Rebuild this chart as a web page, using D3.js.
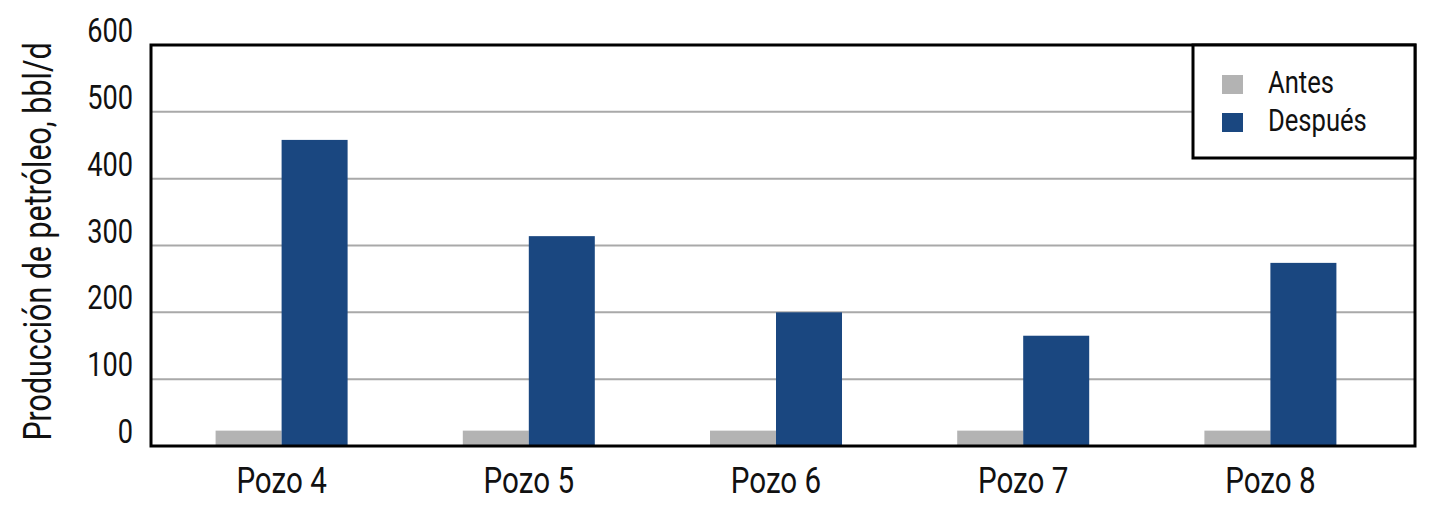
<!DOCTYPE html>
<html>
<head>
<meta charset="utf-8">
<script src="https://cdn.jsdelivr.net/npm/d3@7"></script>
<style>
  body { margin: 0; background: #fff; }
  text { font-family: Roboto, "Liberation Sans", sans-serif; fill: #111; }
</style>
</head>
<body>
<div id="chart"></div>
<script>
// data
var wells = ['Pozo 4', 'Pozo 5', 'Pozo 6', 'Pozo 7', 'Pozo 8'];
var series = ['Antes', 'Después'];
var antes = [23, 23, 23, 23, 23];
var despues = [458, 314, 200, 165, 274];
var yTicks = [0, 100, 200, 300, 400, 500, 600];

var colors = { 'Antes': '#b3b3b3', 'Después': '#1a4780' };

var width = 1442, height = 511;
var margin = { top: 45, right: 27, bottom: 65, left: 151 };
var x0 = margin.left, x1 = width - margin.right;
var y0 = height - margin.bottom, y1 = margin.top;
var squeeze = 0.8; // condensed look

var svg = d3.select('#chart').append('svg')
    .attr('width', width)
    .attr('height', height);

// squeeze a text horizontally around its own anchor point
function condense(sel) {
  sel.each(function() {
    var t = d3.select(this);
    var ax = +t.attr('x') || 0, ay = +t.attr('y') || 0;
    var pre = t.attr('transform') || '';
    t.attr('transform', pre + ' translate(' + ax + ',' + ay + ') scale(' + squeeze + ',1) translate(' + (-ax) + ',' + (-ay) + ')');
  });
}

var y = d3.scaleLinear().domain([0, 600]).range([y0, y1]);

var x = d3.scaleBand()
    .domain(wells)
    .range([x0 + 7, x1 - 21])
    .paddingInner(0.466)
    .paddingOuter(0.233);

var xs = d3.scaleBand().domain(series).range([0, x.bandwidth()]);

// gridlines
svg.append('g')
    .selectAll('line')
    .data(yTicks.filter(d => d > 0 && d < 600))
    .enter().append('line')
    .attr('x1', x0).attr('x2', x1)
    .attr('y1', d => y(d)).attr('y2', d => y(d))
    .style('stroke', '#a9a9a9')
    .style('stroke-width', 2);

// bars
var rows = wells.map((w, i) => ({ well: w, values: [antes[i], despues[i]] }));
var groups = svg.append('g').selectAll('g')
    .data(rows)
    .enter().append('g')
    .attr('transform', d => 'translate(' + x(d.well) + ',0)');

groups.selectAll('rect')
    .data(d => series.map((s, j) => ({ s: s, v: d.values[j] })))
    .enter().append('rect')
    .attr('x', d => xs(d.s))
    .attr('width', xs.bandwidth())
    .attr('y', d => y(d.v))
    .attr('height', d => y0 - y(d.v))
    .style('fill', d => colors[d.s]);

// frame
svg.append('rect')
    .attr('x', x0).attr('y', y1)
    .attr('width', x1 - x0).attr('height', y0 - y1)
    .style('fill', 'none')
    .style('stroke', '#000')
    .style('stroke-width', 3);

// y axis labels
var yAxis = d3.axisLeft(y).tickValues(yTicks).tickSize(0).tickPadding(18);
var ya = svg.append('g')
    .attr('transform', 'translate(' + x0 + ',0)')
    .call(yAxis);
ya.select('.domain').remove();
ya.selectAll('text')
    .attr('dy', '-0.1em')
    .style('font-size', '34px')
    .style('font-family', 'Roboto, "Liberation Sans", sans-serif')
    .style('fill', '#111')
    .call(condense);

// x axis labels
var xAxis = d3.axisBottom(x).tickSize(0).tickPadding(21);
var xa = svg.append('g')
    .attr('transform', 'translate(0,' + y0 + ')')
    .call(xAxis);
xa.select('.domain').remove();
xa.selectAll('text')
    .style('font-size', '37px')
    .style('font-family', 'Roboto, "Liberation Sans", sans-serif')
    .style('fill', '#111')
    .call(condense);

// y title
svg.append('text')
    .attr('transform', 'translate(51,' + ((y0 + y1) / 2 - 4) + ') rotate(-90)')
    .attr('text-anchor', 'middle')
    .style('font-size', '38px')
    .text('Producción de petróleo, bbl/d')
    .call(condense);

// legend
var lg = svg.append('g').attr('transform', 'translate(' + (x1 - 222) + ',' + y1 + ')');
lg.append('rect')
    .attr('width', 222).attr('height', 113)
    .style('fill', '#fff')
    .style('stroke', '#000')
    .style('stroke-width', 3);
var items = lg.selectAll('g.item')
    .data(series)
    .enter().append('g')
    .attr('transform', (d, i) => 'translate(29,' + (30 + i * 38) + ')');
items.append('rect')
    .attr('width', 21).attr('height', 19)
    .style('fill', d => colors[d]);
items.append('text')
    .attr('x', 46).attr('y', 18)
    .style('font-size', '32px')
    .text(d => d)
    .call(condense);
</script>
</body>
</html>
